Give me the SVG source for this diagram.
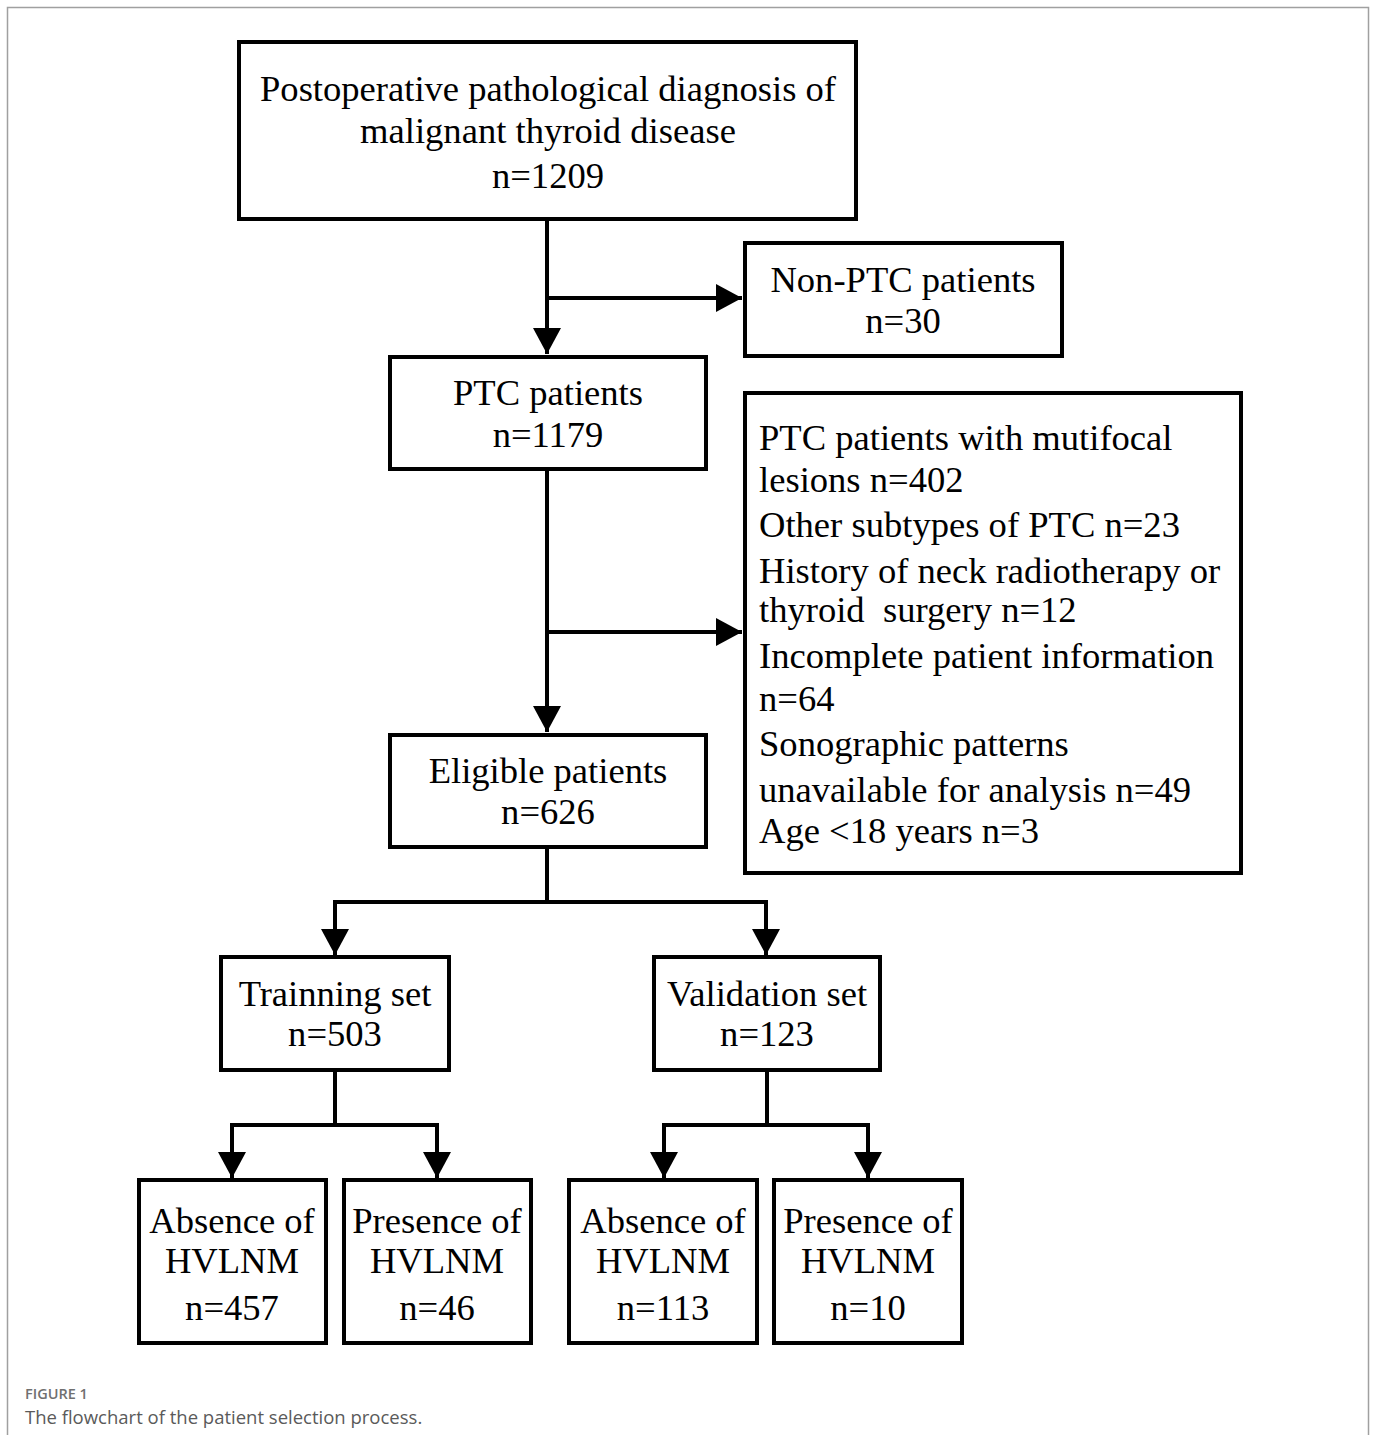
<svg xmlns="http://www.w3.org/2000/svg" width="1375" height="1435" viewBox="0 0 1375 1435">
<style>
.box{fill:#fff;stroke:#000;stroke-width:4}
.t{font-family:"Liberation Serif","Times New Roman",serif;font-size:36.6px;fill:#000}
.c{text-anchor:middle}
.ln{fill:none;stroke:#000;stroke-width:4}
.cap1{font-family:"Open Sans","Noto Sans",sans-serif;font-size:14.5px;font-weight:600;fill:#707070}
.cap2{font-family:"Open Sans","Noto Sans",sans-serif;font-size:18.5px;fill:#5a5a5a}
</style>
<defs>
<marker id="ah" markerUnits="userSpaceOnUse" markerWidth="28" markerHeight="30" refX="26" refY="14" orient="auto" viewBox="0 0 28 30">
<path d="M0,0 L26,14 L0,28 z" fill="#000"/>
</marker>
</defs>
<rect x="0" y="0" width="1375" height="1435" fill="#fff"/>
<rect x="7.5" y="7.5" width="1361" height="1500" fill="none" stroke="#a0a0a0" stroke-width="1.5"/>

<g id="connectors">
<path class="ln" d="M547,219 V354" marker-end="url(#ah)"/>
<path class="ln" d="M547,298 H742" marker-end="url(#ah)"/>
<path class="ln" d="M547,470 V732" marker-end="url(#ah)"/>
<path class="ln" d="M547,632 H742" marker-end="url(#ah)"/>
<path class="ln" d="M547,847 V902"/>
<path class="ln" d="M333,902 H768"/>
<path class="ln" d="M335,902 V955" marker-end="url(#ah)"/>
<path class="ln" d="M766,902 V955" marker-end="url(#ah)"/>
<path class="ln" d="M335,1070 V1125"/>
<path class="ln" d="M230,1125 H439"/>
<path class="ln" d="M232,1125 V1178" marker-end="url(#ah)"/>
<path class="ln" d="M437,1125 V1178" marker-end="url(#ah)"/>
<path class="ln" d="M767,1070 V1125"/>
<path class="ln" d="M662,1125 H870"/>
<path class="ln" d="M664,1125 V1178" marker-end="url(#ah)"/>
<path class="ln" d="M868,1125 V1178" marker-end="url(#ah)"/>
</g>

<g id="n-top">
<rect class="box" x="239" y="42" width="617" height="177"/>
<text class="t c" x="548" y="101">Postoperative pathological diagnosis of</text>
<text class="t c" x="548" y="143">malignant thyroid disease</text>
<text class="t c" x="548" y="188">n=1209</text>
</g>

<g id="n-nonptc">
<rect class="box" x="745" y="243" width="317" height="113"/>
<text class="t c" x="903" y="292">Non-PTC patients</text>
<text class="t c" x="903" y="333">n=30</text>
</g>

<g id="n-ptc">
<rect class="box" x="390" y="357" width="316" height="112"/>
<text class="t c" x="548" y="405">PTC patients</text>
<text class="t c" x="548" y="447">n=1179</text>
</g>

<g id="n-excl">
<rect class="box" x="745" y="393" width="496" height="480"/>
<text class="t" x="759" y="450">PTC patients with mutifocal</text>
<text class="t" x="759" y="492">lesions n=402</text>
<text class="t" x="759" y="537">Other subtypes of PTC n=23</text>
<text class="t" x="759" y="583">History of neck radiotherapy or</text>
<text class="t" x="759" y="622" xml:space="preserve" style="white-space:pre">thyroid  surgery n=12</text>
<text class="t" x="759" y="668">Incomplete patient information</text>
<text class="t" x="759" y="711">n=64</text>
<text class="t" x="759" y="756">Sonographic patterns</text>
<text class="t" x="759" y="802">unavailable for analysis n=49</text>
<text class="t" x="759" y="843">Age &lt;18 years n=3</text>
</g>

<g id="n-eligible">
<rect class="box" x="390" y="735" width="316" height="112"/>
<text class="t c" x="548" y="783">Eligible patients</text>
<text class="t c" x="548" y="824">n=626</text>
</g>

<g id="n-training">
<rect class="box" x="221" y="957" width="228" height="113"/>
<text class="t c" x="335" y="1006">Trainning set</text>
<text class="t c" x="335" y="1046">n=503</text>
</g>

<g id="n-validation">
<rect class="box" x="654" y="957" width="226" height="113"/>
<text class="t c" x="767" y="1006">Validation set</text>
<text class="t c" x="767" y="1046">n=123</text>
</g>

<g id="n-abs-train">
<rect class="box" x="139" y="1180" width="187" height="163"/>
<text class="t c" x="232" y="1233">Absence of</text>
<text class="t c" x="232" y="1273">HVLNM</text>
<text class="t c" x="232" y="1320">n=457</text>
</g>

<g id="n-pres-train">
<rect class="box" x="344" y="1180" width="187" height="163"/>
<text class="t c" x="437" y="1233">Presence of</text>
<text class="t c" x="437" y="1273">HVLNM</text>
<text class="t c" x="437" y="1320">n=46</text>
</g>

<g id="n-abs-val">
<rect class="box" x="569" y="1180" width="188" height="163"/>
<text class="t c" x="663" y="1233">Absence of</text>
<text class="t c" x="663" y="1273">HVLNM</text>
<text class="t c" x="663" y="1320">n=113</text>
</g>

<g id="n-pres-val">
<rect class="box" x="774" y="1180" width="188" height="163"/>
<text class="t c" x="868" y="1233">Presence of</text>
<text class="t c" x="868" y="1273">HVLNM</text>
<text class="t c" x="868" y="1320">n=10</text>
</g>

<g id="caption">
<text class="cap1" x="25" y="1399">FIGURE 1</text>
<text class="cap2" x="25" y="1424">The flowchart of the patient selection process.</text>
</g>
</svg>
